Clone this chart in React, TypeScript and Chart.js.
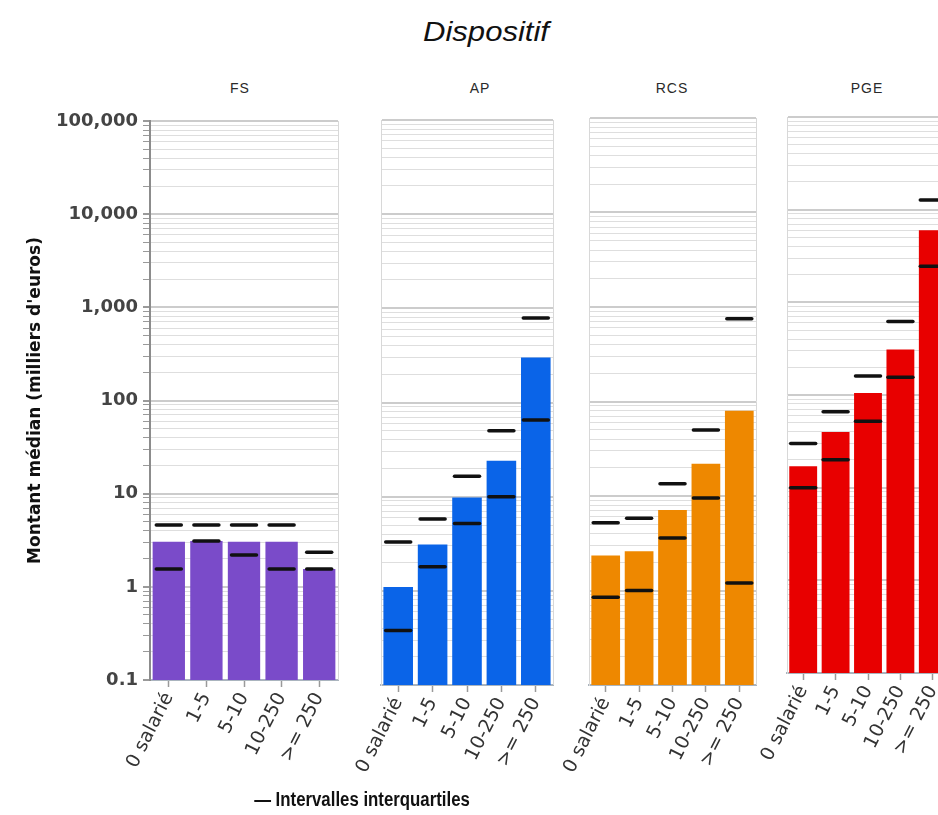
import React, { useEffect, useRef } from "react";
import { Chart, registerables } from "chart.js";

Chart.register(...registerables);

// ---------- data ----------
const chartTitle = "Dispositif";
const yAxisTitle = "Montant médian (milliers d'euros)";
const legendLabel = "Intervalles interquartiles";
const categories = ["0 salarié", "1-5", "5-10", "10-250", ">= 250"];
const panelNames = ["FS", "AP", "RCS", "PGE"];
const panelColors = ["#7a4bc9", "#0a64e8", "#ee8800", "#e80000"];

const fsMedian = [3.05, 3.1, 3.05, 3.05, 1.55];
const fsQ1 = [1.55, 3.1, 2.2, 1.55, 1.55];
const fsQ3 = [4.6, 4.6, 4.6, 4.6, 2.35];

const apMedian = [1.1, 3.1, 9.8, 24, 300];
const apQ1 = [0.38, 1.8, 5.2, 10, 65];
const apQ3 = [3.3, 5.8, 16.5, 50, 790];

const rcsMedian = [2.35, 2.6, 7.1, 22, 80];
const rcsQ1 = [0.85, 1.0, 3.6, 9.5, 1.2];
const rcsQ3 = [5.2, 5.8, 13.5, 50, 750];

const pgeMedian = [17, 40, 105, 310, 6000];
const pgeQ1 = [10, 20, 52, 155, 2450];
const pgeQ3 = [30, 66, 160, 620, 12700];

const yTickValues = [0.1, 1, 10, 100, 1000, 10000, 100000];
const yTickLabels = ["0.1", "1", "10", "100", "1,000", "10,000", "100,000"];

const medians = [fsMedian, apMedian, rcsMedian, pgeMedian];
const lowerQ = [fsQ1, apQ1, rcsQ1, pgeQ1];
const upperQ = [fsQ3, apQ3, rcsQ3, pgeQ3];

// ---------- layout ----------
const FONT = "Arial, 'Liberation Sans', Helvetica, sans-serif";
const WIDE = "'DejaVu Sans', Verdana, sans-serif";
const GEOM = [
  { left: 150, right: 337.5, top: 121, bottom: 680, titleX: 240 },
  { left: 381, right: 552.5, top: 120, bottom: 685, titleX: 480 },
  { left: 589, right: 756, top: 118, bottom: 685, titleX: 672 },
  { left: 787, right: 949, top: 117, bottom: 673, titleX: 867 },
];

const frameLines = {
  id: "frameLines",
  beforeDatasetsDraw(chart: any) {
    const { ctx, chartArea } = chart;
    ctx.save();
    ctx.strokeStyle = "#d8d8d8";
    ctx.lineWidth = 1;
    ctx.beginPath();
    ctx.moveTo(Math.round(chartArea.right) + 0.5, chartArea.top);
    ctx.lineTo(Math.round(chartArea.right) + 0.5, chartArea.bottom);
    ctx.stroke();
    ctx.restore();
    ctx.lineCap = "round";
  },
  afterDatasetsDraw(chart: any) {
    chart.ctx.lineCap = "butt";
  },
};

function isDecade(v: number) {
  return yTickValues.some((t) => Math.abs(t - v) / t < 1e-6);
}

function Panel({ idx }: { idx: number }) {
  const ref = useRef<HTMLCanvasElement>(null);
  const g = GEOM[idx];
  const first = idx === 0;
  const padLeft = first ? 0 : 60;
  const yWidth = first ? 150 : 0;
  const padTop = 14;
  const xH = 125;
  const canvasLeft = g.left - yWidth - padLeft;
  const canvasTop = g.top - padTop;
  const canvasW = Math.round(g.right - canvasLeft + 4);
  const canvasH = Math.round(g.bottom - g.top + padTop + xH);

  useEffect(() => {
    const markerStyle = {
      type: "line" as const,
      showLine: false,
      pointStyle: "line" as const,
      pointRadius: 12.5,
      pointHoverRadius: 12.5,
      pointBorderWidth: 3.5,
      borderColor: "#111",
      backgroundColor: "#111",
      order: 0,
    };
    const chart = new Chart(ref.current as HTMLCanvasElement, {
      type: "bar",
      data: {
        labels: categories,
        datasets: [
          { ...markerStyle, data: upperQ[idx] },
          { ...markerStyle, data: lowerQ[idx] },
          {
            type: "bar",
            data: medians[idx],
            backgroundColor: panelColors[idx],
            barPercentage: 0.86,
            categoryPercentage: 1,
            order: 1,
          },
        ],
      } as any,
      options: {
        responsive: false,
        maintainAspectRatio: false,
        animation: false,
        layout: { autoPadding: false, padding: { top: padTop, left: padLeft, right: 4, bottom: 0 } },
        plugins: { legend: { display: false }, tooltip: { enabled: false } },
        scales: {
          x: {
            offset: true,
            grid: {
              offset: false,
              drawOnChartArea: false,
              drawTicks: true,
              tickLength: 7,
              tickColor: "#9a9a9a",
              tickWidth: 1.5,
            },
            border: { display: true, color: "#aab4be", width: 2 },
            ticks: {
              autoSkip: false,
              maxRotation: 63,
              minRotation: 63,
              padding: 2,
              color: "#333",
              font: { family: WIDE, size: 19 },
            },
            afterFit: (s: any) => {
              s.height = xH;
              s.paddingLeft = 0;
              s.paddingRight = 0;
            },
          },
          y: {
            type: "logarithmic",
            min: 0.1,
            max: 100000,
            afterBuildTicks: (s: any) => {
              const ticks: any[] = [];
              for (let e = -1; e <= 4; e++) {
                for (let m = 1; m <= 9; m++) {
                  ticks.push({ value: Number((m * Math.pow(10, e)).toPrecision(6)) });
                }
              }
              ticks.push({ value: 100000 });
              s.ticks = ticks;
            },
            afterFit: (s: any) => {
              s.width = yWidth;
              s.paddingTop = 0;
              s.paddingBottom = 0;
            },
            grid: {
              color: (c: any) => (isDecade(c.tick?.value) ? "#cccccc" : "#dedede"),
              lineWidth: (c: any) => (isDecade(c.tick?.value) ? 2 : 1),
              drawTicks: first,
              tickLength: 7,
              tickColor: "#9a9a9a",
            },
            border: { display: true, color: first ? "#8c8c8c" : "#d8d8d8", width: first ? 2 : 1 },
            ticks: {
              display: first,
              autoSkip: false,
              padding: 5,
              color: "#444",
              font: { family: WIDE, size: 18, weight: "bold" },
              callback: (v: any) => {
                const i = yTickValues.findIndex((t) => Math.abs(t - Number(v)) / t < 1e-6);
                return i >= 0 ? yTickLabels[i] : "";
              },
            },
            title: {
              display: first,
              text: yAxisTitle,
              color: "#111",
              font: { family: WIDE, size: 17, weight: "bold" },
              padding: { top: 25, bottom: 0 },
            },
          },
        },
      } as any,
      plugins: [frameLines],
    });
    return () => chart.destroy();
  }, []);

  return (
    <canvas
      ref={ref}
      width={canvasW}
      height={canvasH}
      style={{ position: "absolute", left: canvasLeft, top: canvasTop, width: canvasW, height: canvasH }}
    />
  );
}

export default function App() {
  return (
    <div
      style={{
        position: "absolute",
        left: 0,
        top: 0,
        width: 938,
        height: 815,
        overflow: "hidden",
        background: "#fff",
        fontFamily: FONT,
      }}
    >
      <div
        style={{
          position: "absolute",
          left: 386,
          width: 200,
          top: 17,
          textAlign: "center",
          fontStyle: "italic",
          fontSize: 27,
          color: "#111",
          transform: "scaleX(1.15)",
        }}
      >
        {chartTitle}
      </div>
      {panelNames.map((n, i) => (
        <div
          key={n}
          style={{
            position: "absolute",
            left: GEOM[i].titleX - 50,
            width: 100,
            top: 80,
            textAlign: "center",
            fontSize: 14,
            letterSpacing: 1,
            color: "#2a2a2a",
          }}
        >
          {n}
        </div>
      ))}
      {panelNames.map((n, i) => (
        <Panel key={"p" + n} idx={i} />
      ))}
      <div
        style={{
          position: "absolute",
          left: 212,
          width: 300,
          top: 788,
          textAlign: "center",
          fontSize: 20,
          fontWeight: "bold",
          color: "#111",
          transform: "scaleX(0.84)",
        }}
      >
        — {legendLabel}
      </div>
    </div>
  );
}
